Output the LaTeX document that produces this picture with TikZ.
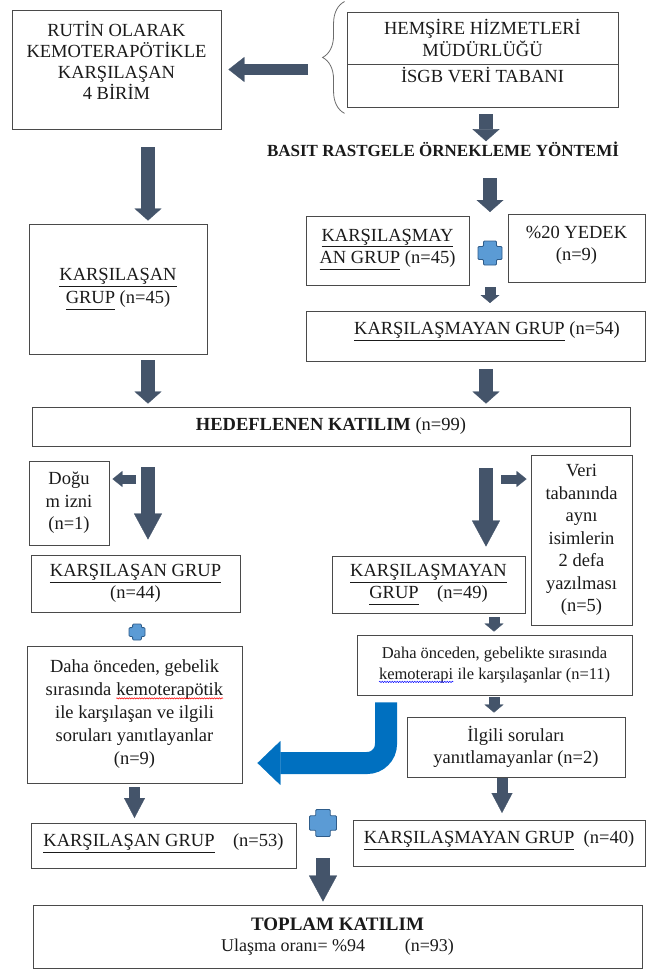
\documentclass[tikz,border=0pt]{standalone}
\usepackage{fontspec}
\setmainfont{Liberation Serif}
\usetikzlibrary{arrows.meta,positioning,decorations.pathreplacing,decorations.pathmorphing}

\definecolor{boxline}{HTML}{4A4A4A}
\definecolor{textcol}{HTML}{1A1A1A}
\definecolor{arrowdark}{HTML}{44546A}
\definecolor{bentblue}{HTML}{0070C0}
\definecolor{plusfill}{HTML}{5B9BD5}
\definecolor{plusedge}{HTML}{2E5C8A}

\newcommand{\boxfont}{\fontsize{18.5}{22.5}\selectfont}
\newcommand{\undl}[1]{\underline{#1\vphantom{Ş}}}
\newcommand{\spellmark}[2]{\tikz[baseline=(w.base)]{\node[draw=none, fill=none, inner sep=0pt, outer sep=0pt, minimum width=0pt, minimum height=0pt] (w) {#2};
  \draw[#1, line width=0.5pt, decorate, decoration={snake, amplitude=0.7pt, segment length=2.5pt}]
    ([yshift=-2.4pt]w.base west) -- ([yshift=-2.4pt]w.base east);}}

\tikzset{
  flowbox/.style={draw=boxline, line width=0.9pt, text=textcol, align=center, inner sep=3pt, font=\boxfont},
  blk/.style n args={3}{draw=arrowdark, line width=#1, -{Triangle[width=#2,length=#3,line width=0.3pt]}},
  bigarrow/.style={blk={14pt}{28pt}{26pt}},
  midarrow/.style={blk={14pt}{27pt}{12pt}},
  smallarrow/.style={blk={11pt}{21pt}{20pt}},
  tinyarrow/.style={blk={11pt}{19pt}{8pt}},
  sidearrow/.style={blk={9pt}{16pt}{10pt}},
  bentarrow/.style={draw=bentblue, line width=22pt, rounded corners=19pt, -{Triangle[width=44pt,length=23pt,line width=0.3pt]}},
  bracestyle/.style={draw=gray!85!black, line width=0.8pt, decorate, decoration={brace, amplitude=22pt}},
  pics/plusmark/.style 2 args={code={
    \draw[draw=plusedge, fill=plusfill, line width=0.8pt, rounded corners=1pt]
      (-#2,-#1) -- (#2,-#1) -- (#2,-#2) -- (#1,-#2) -- (#1,#2) -- (#2,#2) -- (#2,#1)
      -- (-#2,#1) -- (-#2,#2) -- (-#1,#2) -- (-#1,-#2) -- (-#2,-#2) -- cycle;
  }}
}

\begin{document}
\begin{tikzpicture}[x=1pt, y=-1pt]
\useasboundingbox (0,0) rectangle (648,972);

% columns and branch points
\coordinate (colA) at (148,0);
\coordinate (colB) at (486,0);
\coordinate (colC) at (494,0);
\coordinate (colD) at (502,0);
\coordinate (colBent) at (386,0);
\coordinate (rowBent) at (0,763);
\coordinate (splitL) at (148,479);
\coordinate (splitR) at (486,479);
\coordinate (bracetip) at (322,57);
\coordinate (plusone) at (490,253);
\coordinate (plustwo) at (137,632);
\coordinate (plusthree) at (323,823);

% top
\node[flowbox, minimum width=209pt, minimum height=119pt, font=\fontsize{18.5}{21}\selectfont] (rutin) at (116.5,69.5) {RUTİN OLARAK\\KEMOTERAPÖTİKLE\\KARŞILAŞAN\\4 BİRİM\\[-3pt]};
\node[flowbox, minimum width=271pt, minimum height=52pt] (hemsire) at (482.5,38) {HEMŞİRE HİZMETLERİ\\MÜDÜRLÜĞÜ};
\node[flowbox, minimum width=271pt, text height=15pt, text depth=22pt, anchor=north] (isgb) at (hemsire.south) {İSGB VERİ TABANI};
\node[font=\bfseries\fontsize{17}{20}\selectfont, text=textcol, inner sep=0pt, anchor=base] (basit) at (443,156) {BASIT RASTGELE ÖRNEKLEME YÖNTEMİ};

% sampling
\node[flowbox, minimum width=178pt, minimum height=130pt] (karsC) at (118,289) {\undl{KARŞILAŞAN}\\\undl{GRUP} (n=45)};
\node[flowbox, minimum width=163pt, minimum height=69pt] (karsmD) at (387.5,250.5) {\undl{KARŞILAŞMAY}\\\undl{AN GRUP} (n=45)\\[-14pt]};
\node[flowbox, minimum width=137pt, minimum height=68pt] (yedek) at (576.5,248) {\%20 YEDEK\\(n=9)\\[-13pt]};
\node[flowbox, minimum width=339pt, text height=20pt, text depth=24pt, anchor=north] (karsmF) at (475.5,311) {\hspace*{23pt}\undl{KARŞILAŞMAYAN GRUP} (n=54)};
\node[flowbox, minimum width=598pt, minimum height=39pt] (hedef) at (331,426.5) {\textbf{HEDEFLENEN KATILIM} (n=99)};

% left branch
\node[flowbox, minimum width=80pt, minimum height=84pt] (dogum) at (69,503) {Doğu\\m izni\\(n=1)};
\node[flowbox, minimum width=209pt, minimum height=57pt] (karsG44) at (135.5,583.5) {\undl{KARŞILAŞAN GRUP}\\(n=44)};
\node[flowbox, minimum width=215pt, minimum height=137pt, font=\fontsize{18.5}{23}\selectfont] (onceki9) at (134.5,714.5) {Daha önceden, gebelik\\sırasında \spellmark{red}{kemoterapötik}\\ile karşılaşan ve ilgili\\soruları yanıtlayanlar\\(n=9)};
\node[flowbox, minimum width=265pt, text height=20pt, text depth=19pt, anchor=north] (karsG53) at (163.5,823) {\undl{KARŞILAŞAN GRUP}\quad (n=53)};

% right branch
\node[flowbox, minimum width=101pt, minimum height=170pt] (veri) at (581.5,540) {Veri\\tabanında\\aynı\\isimlerin\\2 defa\\yazılması\\(n=5)};
\node[flowbox, minimum width=193pt, minimum height=57pt] (karsm49) at (428.5,584.5) {\undl{KARŞILAŞMAYAN}\\\undl{GRUP}\quad (n=49)};
\node[flowbox, minimum width=275pt, minimum height=60pt, font=\fontsize{16.5}{21}\selectfont] (onceki11) at (494.5,665) {Daha önceden, gebelikte sırasında\\\spellmark{blue}{kemoterapi} ile karşılaşanlar (n=11)};
\node[flowbox, minimum width=218pt, minimum height=60pt] (ilgili) at (516,747) {İlgili soruları\\yanıtlamayanlar (n=2)};
\node[flowbox, minimum width=292pt, text height=20pt, text depth=20pt, anchor=north] (karsm40) at (499,820) {\undl{KARŞILAŞMAYAN GRUP}\enspace(n=40)};

% total
\node[flowbox, minimum width=609pt, minimum height=63pt, font=\fontsize{18}{20.5}\selectfont] (toplam) at (337.5,936.5) {\textbf{\fontsize{19}{20.5}\selectfont TOPLAM KATILIM}\\Ulaşma oranı= \%94\hspace{2.2em}(n=93)};

% brace and plus signs
\draw[bracestyle] ([shift={(-2,5)}]isgb.south west) -- ([shift={(-2,-10)}]hemsire.north west);
\pic at (plusone) {plusmark={12}{6.5}};
\pic at (plustwo) {plusmark={8}{4.4}};
\pic at (plusthree) {plusmark={13.5}{7.2}};

% arrows
\draw[blk={11pt}{25pt}{16pt}, shorten <=14pt, shorten >=7pt] (bracetip |- rutin.east) -- (rutin.east);
\draw[midarrow, shorten <=6pt] (isgb.south -| colB) -- (basit.north -| colB);
\draw[midarrow, shorten <=22pt, shorten >=41pt] (basit.south -| plusone) -- (plusone);
\draw[tinyarrow, shorten <=34pt, shorten >=8pt] (plusone) -- (karsmF.north -| plusone);
\draw[midarrow, shorten <=18pt, shorten >=3pt] (rutin.south -| colA) -- (karsC.north -| colA);
\draw[midarrow, shorten <=6pt, shorten >=3pt] (karsC.south -| colA) -- (hedef.north -| colA);
\draw[midarrow, shorten <=7pt, shorten >=3pt] (karsmF.south -| colB) -- (hedef.north -| colB);

\draw[bigarrow, shorten <=21pt, shorten >=15pt] (hedef.south -| colA) -- (karsG44.north -| colA);
\draw[sidearrow, shorten <=12pt, shorten >=3pt] (splitL) -- (dogum.east |- splitL);
\draw[bigarrow, shorten <=22pt, shorten >=9pt] (hedef.south -| colB) -- (karsm49.north -| colB);
\draw[sidearrow, shorten <=15pt, shorten >=4pt] (splitR) -- (veri.west |- splitR);

\draw[tinyarrow, shorten <=4pt, shorten >=3pt] (karsm49.south -| colC) -- (onceki11.north -| colC);
\draw[tinyarrow, shorten <=2pt, shorten >=4pt] (onceki11.south -| colC) -- (ilgili.north -| colC);
\draw[smallarrow, shorten <=1pt, shorten >=7pt] (ilgili.south -| colD) -- (karsm40.north -| colD);
\draw[smallarrow, shorten <=4pt, shorten >=5pt] (onceki9.south) -- (karsG53.north -| onceki9.south);
\draw[bentarrow, shorten <=7pt, shorten >=15pt] (onceki11.south -| colBent) |- (onceki9.east |- rowBent);
\draw[bigarrow, shorten <=35pt, shorten >=3pt] (plusthree) -- (toplam.north -| plusthree);

\end{tikzpicture}
\end{document}
